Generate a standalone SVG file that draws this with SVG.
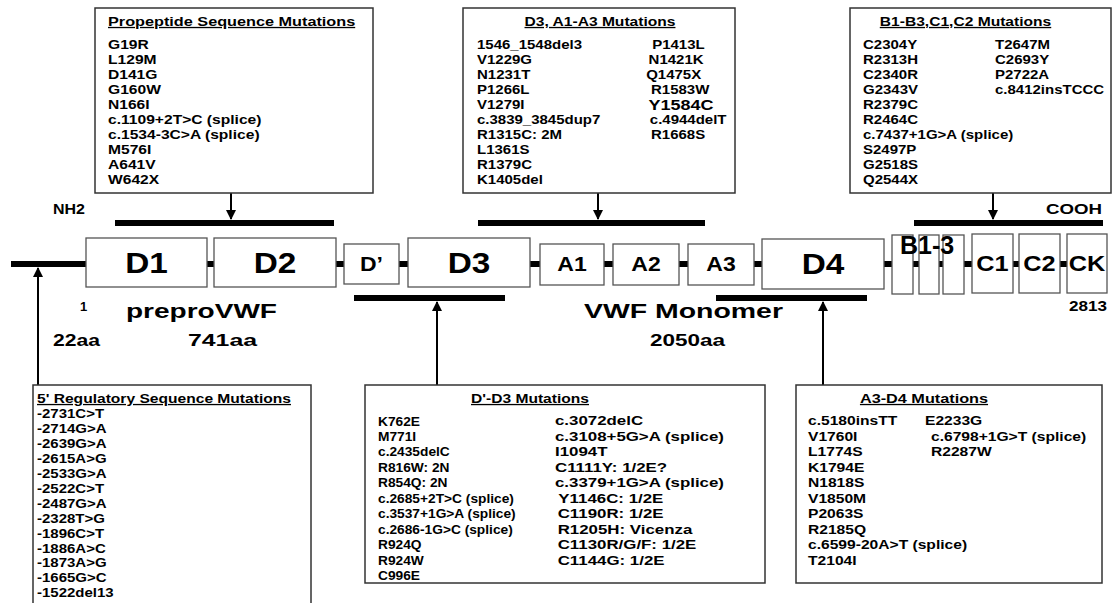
<svg xmlns="http://www.w3.org/2000/svg" width="1113" height="603" viewBox="0 0 1113 603">
<defs>
<style>
text{font-family:"Liberation Sans",Arial,Helvetica,sans-serif;font-weight:bold;fill:#000}
.it{font-size:12.5px}
.ti{font-size:13px;text-decoration:underline}
.box{fill:#fff;stroke:#333;stroke-width:1.5}
.dom{fill:#fff;stroke:#555;stroke-width:1.3}
.bar{stroke:#000;stroke-width:6;fill:none}
.arr{stroke:#000;stroke-width:2;fill:none;marker-end:url(#ah)}
.big{font-size:29px;text-anchor:middle}
.mid{font-size:20px;text-anchor:middle}
.cc{font-size:22px;text-anchor:middle}
</style>
<marker id="ah" viewBox="0 0 10 10" refX="9" refY="5" markerWidth="5" markerHeight="5" orient="auto"><path d="M0,0L10,5L0,10z" fill="#000"/></marker>
</defs>
<rect width="1113" height="603" fill="#fff"/>
<g id="connectors">
<line class="bar" x1="11" y1="264" x2="1067" y2="264"/>
<line class="bar" x1="115" y1="223" x2="334" y2="223"/>
<line class="bar" x1="478" y1="223" x2="705" y2="223"/>
<line class="bar" x1="914" y1="223" x2="1103" y2="223"/>
<line class="bar" x1="354" y1="298" x2="505" y2="298"/>
<line class="bar" x1="716" y1="298" x2="867" y2="298"/>
<line class="arr" x1="231" y1="193" x2="231" y2="219"/>
<line class="arr" x1="598" y1="193" x2="598" y2="219"/>
<line class="arr" x1="993" y1="193" x2="993" y2="219"/>
<line class="arr" x1="38" y1="385" x2="38" y2="268"/>
<line class="arr" x1="437" y1="385" x2="437" y2="302"/>
<line class="arr" x1="823" y1="385" x2="823" y2="302"/>
</g>
<g id="domains">
<g id="d1"><rect class="dom" x="86" y="238" width="121" height="49"/><text class="big" transform="translate(146.5,273) scale(1.15,1)">D1</text></g>
<g id="d2"><rect class="dom" x="214" y="238" width="122" height="49"/><text class="big" transform="translate(275,273) scale(1.15,1)">D2</text></g>
<g id="dprime"><rect class="dom" x="344" y="244" width="55" height="40"/><text class="mid" transform="translate(371.5,271) scale(1.15,1)">D’</text></g>
<g id="d3"><rect class="dom" x="408" y="238" width="122" height="49"/><text class="big" transform="translate(469,273) scale(1.15,1)">D3</text></g>
<g id="a1"><rect class="dom" x="540" y="244" width="64" height="41"/><text class="mid" transform="translate(572,271) scale(1.15,1)">A1</text></g>
<g id="a2"><rect class="dom" x="613" y="244" width="66" height="41"/><text class="mid" transform="translate(646,271) scale(1.15,1)">A2</text></g>
<g id="a3"><rect class="dom" x="688" y="244" width="66" height="41"/><text class="mid" transform="translate(721,271) scale(1.15,1)">A3</text></g>
<g id="d4"><rect class="dom" x="762" y="239" width="122" height="50"/><text class="big" transform="translate(823,274) scale(1.15,1)">D4</text></g>
<g id="b13"><rect class="dom" x="892" y="235" width="21" height="59"/><rect class="dom" x="919" y="235" width="20" height="59"/><rect class="dom" x="943" y="235" width="21" height="59"/><text x="900" y="254" style="font-size:25px">B1-3</text></g>
<g id="c1"><rect class="dom" x="972" y="234" width="41" height="59"/><text class="cc" transform="translate(992.5,271) scale(1.15,1)">C1</text></g>
<g id="c2"><rect class="dom" x="1019" y="234" width="41" height="59"/><text class="cc" transform="translate(1039.5,271) scale(1.15,1)">C2</text></g>
<g id="ck"><rect class="dom" x="1067" y="234" width="40" height="59"/><text class="cc" transform="translate(1087,271) scale(1.15,1)">CK</text></g>
</g>
<g id="labels">
<text x="53" y="214" style="font-size:15px" textLength="32" lengthAdjust="spacingAndGlyphs">NH2</text>
<text x="1046" y="214" style="font-size:15px" textLength="56" lengthAdjust="spacingAndGlyphs">COOH</text>
<text x="80" y="311" style="font-size:13px">1</text>
<text x="126" y="318" style="font-size:20px" textLength="151" lengthAdjust="spacingAndGlyphs">preproVWF</text>
<text x="53" y="346" style="font-size:16px" textLength="47" lengthAdjust="spacingAndGlyphs">22aa</text>
<text x="188" y="346" style="font-size:16px" textLength="69" lengthAdjust="spacingAndGlyphs">741aa</text>
<text x="584" y="318" style="font-size:20px" textLength="199" lengthAdjust="spacingAndGlyphs">VWF Monomer</text>
<text x="650" y="346" style="font-size:16px" textLength="75" lengthAdjust="spacingAndGlyphs">2050aa</text>
<text x="1069" y="311" style="font-size:14px" textLength="38" lengthAdjust="spacingAndGlyphs">2813</text>
</g>
<g id="propeptide">
<rect class="box" x="95" y="8" width="278" height="185"/>
<g transform="translate(108,0) scale(1.25,1)">
<text class="ti" x="0" y="26">Propeptide Sequence Mutations</text>
<text class="it" x="0" y="49.5">G19R</text>
<text class="it" x="0" y="64.5">L129M</text>
<text class="it" x="0" y="79.5">D141G</text>
<text class="it" x="0" y="94.5">G160W</text>
<text class="it" x="0" y="109.5">N166I</text>
<text class="it" x="0" y="124.5">c.1109+2T&gt;C (splice)</text>
<text class="it" x="0" y="139.5">c.1534-3C&gt;A (splice)</text>
<text class="it" x="0" y="154.5">M576I</text>
<text class="it" x="0" y="169.5">A641V</text>
<text class="it" x="0" y="184.5">W642X</text>
</g>
</g>
<g id="d3a">
<rect class="box" x="463" y="8" width="272" height="185"/>
<g transform="translate(477,0) scale(1.2,1)">
<text class="ti" x="102.5" y="26" text-anchor="middle">D3, A1-A3 Mutations</text>
<text class="it" x="0" y="49.5">1546_1548del3</text>
<text class="it" x="0" y="64.5">V1229G</text>
<text class="it" x="0" y="79.5">N1231T</text>
<text class="it" x="0" y="94.5">P1266L</text>
<text class="it" x="0" y="109.5">V1279I</text>
<text class="it" x="0" y="124.5">c.3839_3845dup7</text>
<text class="it" x="0" y="139.5">R1315C: 2M</text>
<text class="it" x="0" y="154.5">L1361S</text>
<text class="it" x="0" y="169.5">R1379C</text>
<text class="it" x="0" y="184.5">K1405del</text>
<text class="it" x="146" y="49.5">P1413L</text>
<text class="it" x="143" y="64.5">N1421K</text>
<text class="it" x="141" y="79.5">Q1475X</text>
<text class="it" x="145" y="94.5">R1583W</text>
<text x="143" y="110" style="font-size:15px">Y1584C</text>
<text class="it" x="144" y="124.5">c.4944delT</text>
<text class="it" x="145" y="139.5">R1668S</text>
</g>
</g>
<g id="bc">
<rect class="box" x="850" y="8" width="261" height="185"/>
<g transform="translate(863,0) scale(1.2,1)">
<text class="ti" x="14" y="26">B1-B3,C1,C2 Mutations</text>
<text class="it" x="0" y="49.5">C2304Y</text>
<text class="it" x="0" y="64.5">R2313H</text>
<text class="it" x="0" y="79.5">C2340R</text>
<text class="it" x="0" y="94.5">G2343V</text>
<text class="it" x="0" y="109.5">R2379C</text>
<text class="it" x="0" y="124.5">R2464C</text>
<text class="it" x="0" y="139.5">c.7437+1G&gt;A (splice)</text>
<text class="it" x="0" y="154.5">S2497P</text>
<text class="it" x="0" y="169.5">G2518S</text>
<text class="it" x="0" y="184.5">Q2544X</text>
<text class="it" x="110" y="49.5">T2647M</text>
<text class="it" x="110" y="64.5">C2693Y</text>
<text class="it" x="110" y="79.5">P2722A</text>
<text class="it" x="110" y="94.5">c.8412insTCCC</text>
</g>
</g>
<g id="reg5">
<rect class="box" x="33" y="385" width="278" height="240"/>
<g transform="translate(37,0) scale(1.2,1)">
<text class="ti" x="0" y="403">5' Regulatory Sequence Mutations</text>
<text class="it" x="0" y="418.5">-2731C&gt;T</text>
<text class="it" x="0" y="433.4">-2714G&gt;A</text>
<text class="it" x="0" y="448.3">-2639G&gt;A</text>
<text class="it" x="0" y="463.2">-2615A&gt;G</text>
<text class="it" x="0" y="478.1">-2533G&gt;A</text>
<text class="it" x="0" y="493">-2522C&gt;T</text>
<text class="it" x="0" y="507.9">-2487G&gt;A</text>
<text class="it" x="0" y="522.8">-2328T&gt;G</text>
<text class="it" x="0" y="537.7">-1896C&gt;T</text>
<text class="it" x="0" y="552.6">-1886A&gt;C</text>
<text class="it" x="0" y="567.5">-1873A&gt;G</text>
<text class="it" x="0" y="582.4">-1665G&gt;C</text>
<text class="it" x="0" y="597.3">-1522del13</text>
</g>
</g>
<g id="dd3">
<rect class="box" x="365" y="385" width="400" height="198"/>
<g transform="translate(530,0) scale(1.2,1)"><text class="ti" x="0" y="403" text-anchor="middle">D'-D3 Mutations</text></g>
<g transform="translate(378,0) scale(1.1,1)">
<text class="it" x="0" y="425.5">K762E</text>
<text class="it" x="0" y="441">M771I</text>
<text class="it" x="0" y="456.5">c.2435delC</text>
<text class="it" x="0" y="472">R816W: 2N</text>
<text class="it" x="0" y="487.5">R854Q: 2N</text>
<text class="it" x="0" y="503">c.2685+2T&gt;C (splice)</text>
<text class="it" x="0" y="518.5">c.3537+1G&gt;A (splice)</text>
<text class="it" x="0" y="534">c.2686-1G&gt;C (splice)</text>
<text class="it" x="0" y="549.5">R924Q</text>
<text class="it" x="0" y="565">R924W</text>
<text class="it" x="0" y="580.5">C996E</text>
</g>
<g transform="translate(555,0) scale(1.35,1)">
<text class="it" x="0" y="425.5">c.3072delC</text>
<text class="it" x="0" y="441">c.3108+5G&gt;A (splice)</text>
<text class="it" x="0" y="456.5">I1094T</text>
<text class="it" x="0" y="472">C1111Y: 1/2E?</text>
<text class="it" x="0" y="487.5">c.3379+1G&gt;A (splice)</text>
<text class="it" x="2.5" y="503">Y1146C: 1/2E</text>
<text class="it" x="2" y="518.5">C1190R: 1/2E</text>
<text class="it" x="2" y="534">R1205H: Vicenza</text>
<text class="it" x="2" y="549.5">C1130R/G/F: 1/2E</text>
<text class="it" x="2" y="565">C1144G: 1/2E</text>
</g>
</g>
<g id="a3d4">
<rect class="box" x="796" y="385" width="306" height="198"/>
<g transform="translate(808,0) scale(1.25,1)">
<text class="ti" x="92.8" y="403" text-anchor="middle">A3-D4 Mutations</text>
<text class="it" x="0" y="425.5">c.5180insTT</text>
<text class="it" x="0" y="441">V1760I</text>
<text class="it" x="0" y="456.5">L1774S</text>
<text class="it" x="0" y="472">K1794E</text>
<text class="it" x="0" y="487.5">N1818S</text>
<text class="it" x="0" y="503">V1850M</text>
<text class="it" x="0" y="518.5">P2063S</text>
<text class="it" x="0" y="534">R2185Q</text>
<text class="it" x="0" y="549.5">c.6599-20A&gt;T (splice)</text>
<text class="it" x="0" y="565">T2104I</text>
<text class="it" x="93.6" y="425.5">E2233G</text>
<text class="it" x="98.4" y="441">c.6798+1G&gt;T (splice)</text>
<text class="it" x="98.4" y="456.5">R2287W</text>
</g>
</g>
</svg>
